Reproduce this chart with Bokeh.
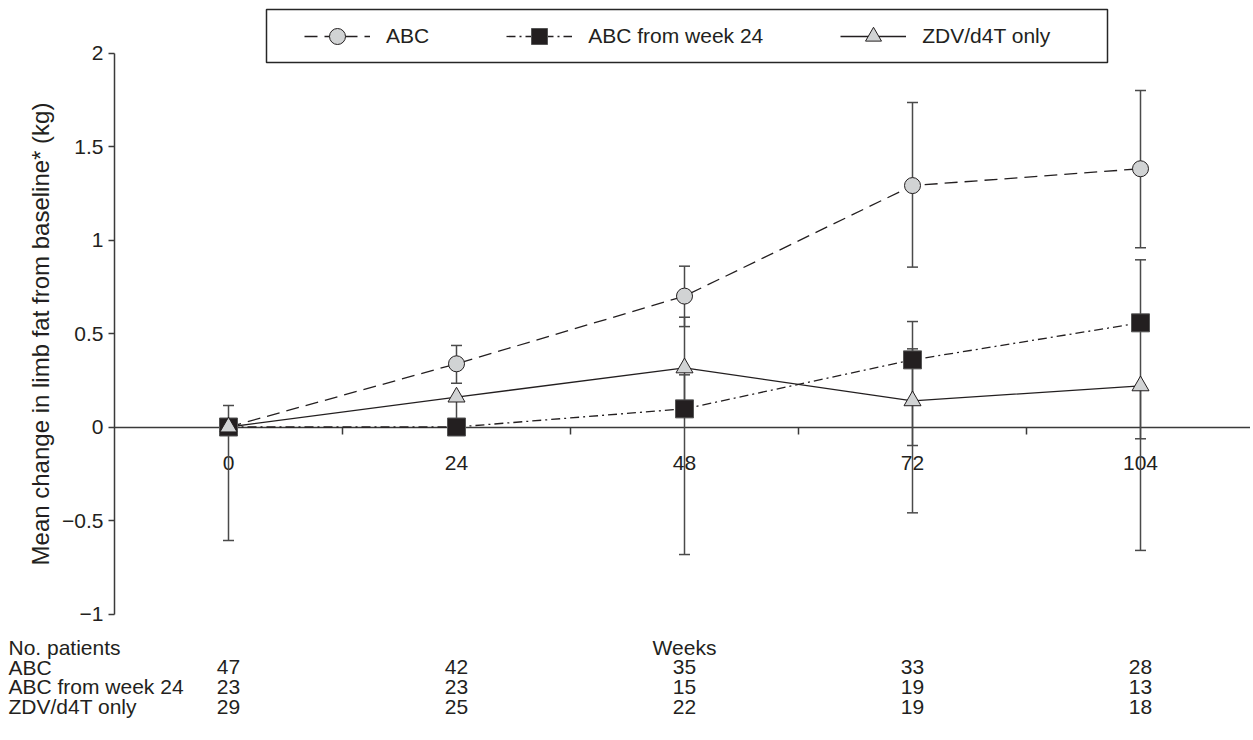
from bokeh.plotting import figure
from bokeh.models import (Range1d, FixedTicker, Whisker, TeeHead, ColumnDataSource,
                          Legend, LegendItem, BoxAnnotation)
from bokeh.core.properties import value
from bokeh.embed import file_html
from bokeh.resources import INLINE

# ---------------- data ----------------
weeks = ["0", "24", "48", "72", "104"]

abc_mean = [0.0, 0.338, 0.700, 1.291, 1.381]
abc_lo = [0.0, 0.234, 0.537, 0.855, 0.958]
abc_hi = [0.0, 0.436, 0.860, 1.735, 1.800]

abc24_mean = [0.0, 0.0, 0.097, 0.359, 0.557]
abc24_lo = [-0.607, 0.0, -0.682, -0.459, -0.660]
abc24_hi = [0.0, 0.0, 0.279, 0.564, 0.894]

zdv_mean = [0.0, 0.160, 0.316, 0.140, 0.220]
zdv_lo = [0.0, 0.0, 0.097, -0.099, -0.063]
zdv_hi = [0.115, 0.160, 0.587, 0.418, 0.220]

series_names = ["ABC", "ABC from week 24", "ZDV/d4T only"]
n_abc = [47, 42, 35, 33, 28]
n_abc24 = [23, 23, 15, 19, 13]
n_zdv = [29, 25, 22, 19, 18]

y_ticks = [-1, -0.5, 0, 0.5, 1, 1.5, 2]
y_tick_labels = ["\u22121", "\u22120.5", "0", "0.5", "1", "1.5", "2"]
y_title = "Mean change in limb fat from baseline* (kg)"
x_title = "Weeks"
table_title = "No. patients"

# ---------------- layout ----------------
W, H = 1250, 736
PX_X = 228.0   # pixels per week slot
PX_Y = 187.0   # pixels per kg
x0 = -0.5
y1 = 426.5 / PX_Y
x1 = x0 + W / PX_X
y0 = y1 - H / PX_Y

FONT = "Liberation Sans"
INK = "#231f20"
AX = "#3a3a3a"

xs = [i + 0.5 for i in range(len(weeks))]
boundaries = [i + 1.0 for i in range(len(weeks))]

p = figure(width=W, height=H, x_range=Range1d(x0, x1), y_range=Range1d(y0, y1),
           output_backend="svg", toolbar_location=None,
           min_border_left=0, min_border_right=0, min_border_top=0, min_border_bottom=0)
p.outline_line_color = None
p.grid.visible = False
p.background_fill_color = "white"
p.border_fill_color = "white"

# x axis drawn at y = 0
xa = p.xaxis[0]
xa.fixed_location = 0
xa.bounds = (0, x1)
xa.ticker = FixedTicker(ticks=xs, minor_ticks=boundaries)
xa.major_label_overrides = {x: w for x, w in zip(xs, weeks)}
xa.major_tick_out = 0
xa.major_tick_in = 0
xa.minor_tick_out = 7
xa.minor_tick_in = 0
xa.minor_tick_line_color = AX
xa.minor_tick_line_width = 1.5
xa.axis_line_color = AX
xa.axis_line_width = 1.5
xa.major_label_standoff = 22
xa.major_label_text_font = FONT
xa.major_label_text_font_size = "21px"
xa.major_label_text_color = INK
xa.level = "underlay"

# y axis drawn at the left edge of week 0 slot
ya = p.yaxis[0]
ya.fixed_location = 0
ya.bounds = (-1, 2)
ya.ticker = FixedTicker(ticks=y_ticks)
ya.major_label_overrides = {t: l for t, l in zip(y_ticks, y_tick_labels)}
ya.minor_tick_line_color = None
ya.major_tick_out = 6
ya.major_tick_in = 0
ya.major_tick_line_color = AX
ya.major_tick_line_width = 1.5
ya.axis_line_color = AX
ya.axis_line_width = 1.5
ya.major_label_standoff = 5
ya.major_label_text_font = FONT
ya.major_label_text_font_size = "21px"
ya.major_label_text_color = INK
ya.axis_label = y_title
ya.axis_label_text_font = FONT
ya.axis_label_text_font_size = "24px"
ya.axis_label_text_font_style = "normal"
ya.axis_label_text_color = INK
ya.axis_label_standoff = 5
ya.level = "underlay"

# error bars
def bars(lo, hi):
    src = ColumnDataSource(dict(x=xs, lo=lo, hi=hi))
    w = Whisker(source=src, base="x", lower="lo", upper="hi", dimension="height",
                line_color="#4a4a4a", line_width=1.5,
                upper_head=TeeHead(size=11, line_color="#4a4a4a", line_width=1.5),
                lower_head=TeeHead(size=11, line_color="#4a4a4a", line_width=1.5),
                level="underlay")
    p.add_layout(w)

bars(abc_lo, abc_hi)
bars(abc24_lo, abc24_hi)
bars(zdv_lo, zdv_hi)

# lines & markers
l1 = p.line(xs, abc_mean, line_color=INK, line_width=1.3, line_dash="13 7")
l2 = p.line(xs, abc24_mean, line_color=INK, line_width=1.3, line_dash="9 4 2 4")
l3 = p.line(xs, zdv_mean, line_color=INK, line_width=1.3)
m1 = p.scatter(xs, abc_mean, marker="circle", size=16, fill_color="#d1d3d4",
               line_color=INK, line_width=1)
m2 = p.scatter(xs, abc24_mean, marker="square", size=18, fill_color=INK,
               line_color="#555555", line_width=1)
m3 = p.scatter(xs, zdv_mean, marker="triangle", size=17, fill_color="#d1d3d4",
               line_color=INK, line_width=1)

# legend frame (pixel layout converted to data units)
box = BoxAnnotation(left=x0 + 266 / PX_X, right=x0 + 1107 / PX_X,
                    top=y1 - 9 / PX_Y, bottom=y1 - 62 / PX_Y,
                    fill_color="white", fill_alpha=1.0,
                    line_color="#262626", line_alpha=1.0, line_width=1.5,
                    level="annotation")
p.add_layout(box)

legend = Legend(items=[LegendItem(label=series_names[0], renderers=[l1, m1]),
                       LegendItem(label=series_names[1], renderers=[l2, m2]),
                       LegendItem(label=series_names[2], renderers=[l3, m3])],
                orientation="horizontal", location=(304, H - 56), margin=0,
                glyph_width=66, glyph_height=40, label_standoff=16, spacing=77,
                padding=0, border_line_color=None, background_fill_alpha=0.0,
                label_text_font=FONT, label_text_font_size="21px",
                label_text_color=INK)
p.add_layout(legend)

# patient-number table below the chart
table_top = -1.18
row_step = 0.105
rows = [n_abc, n_abc24, n_zdv]
p.text(x=[x0], y=[table_top], text=[table_title], text_font=value(FONT),
       text_font_size="21px", text_color=INK, text_align="left",
       text_baseline="middle", x_offset=8)
p.text(x=[sum(xs) / len(xs)], y=[table_top], text=[x_title], text_font=value(FONT),
       text_font_size="21px", text_color=INK, text_align="center",
       text_baseline="middle")
for i, (name, counts) in enumerate(zip(series_names, rows)):
    yy = table_top - (i + 1) * row_step
    p.text(x=[x0], y=[yy], text=[name], text_font=value(FONT),
           text_font_size="21px", text_color=INK, text_align="left",
           text_baseline="middle", x_offset=8)
    p.text(x=xs, y=[yy] * len(xs), text=[str(c) for c in counts],
           text_font=value(FONT), text_font_size="21px", text_color=INK,
           text_align="center", text_baseline="middle")

open("out.html", "w").write(file_html(p, INLINE))
